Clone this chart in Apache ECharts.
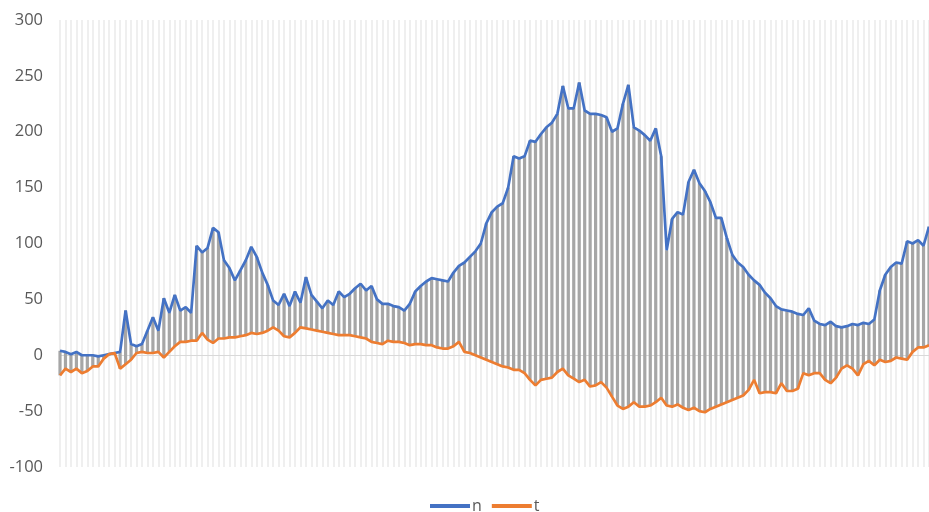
<!DOCTYPE html>
<html>
<head>
<meta charset="utf-8">
<script src="https://cdn.jsdelivr.net/npm/echarts@6/dist/echarts.min.js"></script>
<style>
html,body{margin:0;padding:0;background:#fff;}
#chart{width:929px;height:512px;}
</style>
</head>
<body>
<div id="chart"></div>
<script>
// Series values (one entry per category)
const nValues = [
  4, 3, 1, 3, 0, 0, 0, -1, 0, 1,
  2, 3, 40, 10, 8, 10, 22, 34, 22, 51,
  38, 54, 40, 43, 38, 98, 92, 96, 114, 110,
  85, 78, 67, 76, 85, 97, 88, 74, 63, 49,
  45, 55, 44, 57, 47, 70, 54, 48, 42, 49,
  45, 57, 52, 55, 60, 64, 58, 62, 50, 46,
  46, 44, 43, 40, 46, 57, 62, 66, 69, 68,
  67, 66, 74, 80, 83, 88, 93, 100, 118, 128,
  133, 136, 150, 178, 176, 178, 192, 191, 198, 204,
  208, 216, 241, 221, 221, 244, 219, 216, 216, 215,
  213, 200, 203, 225, 242, 204, 201, 197, 192, 203,
  178, 94, 122, 128, 126, 155, 166, 154, 147, 137,
  123, 123, 105, 90, 83, 79, 72, 67, 63, 56,
  51, 44, 41, 40, 39, 37, 36, 42, 31, 28,
  27, 30, 26, 25, 26, 28, 27, 29, 28, 32,
  58, 72, 79, 83, 82, 102, 100, 103, 98, 115
];
const tValues = [
  -18, -12, -15, -12, -16, -14, -10, -10, -3, 1,
  2, -12, -8, -4, 2, 3, 2, 2, 3, -2,
  3, 8, 12, 12, 13, 13, 20, 14, 11, 15,
  15, 16, 16, 17, 18, 20, 19, 20, 22, 25,
  22, 17, 16, 20, 25, 24, 23, 22, 21, 20,
  19, 18, 18, 18, 17, 16, 15, 12, 11, 10,
  13, 12, 12, 11, 9, 10, 10, 9, 9, 7,
  6, 6, 8, 12, 3, 2, 0, -2, -4, -6,
  -8, -10, -11, -13, -13, -16, -22, -27, -22, -21,
  -20, -15, -12, -18, -21, -24, -22, -28, -27, -24,
  -29, -37, -45, -48, -46, -42, -46, -46, -45, -42,
  -38, -45, -46, -44, -47, -49, -47, -50, -51, -48,
  -46, -44, -42, -40, -38, -36, -31, -22, -34, -33,
  -33, -34, -25, -32, -32, -30, -16, -18, -16, -16,
  -22, -25, -20, -12, -9, -12, -18, -8, -5, -9,
  -4, -6, -5, -2, -3, -4, 3, 7, 7, 9
];
const categories = nValues.map((_, i) => String(i + 1));
const yTicks = { min: -100, max: 300, interval: 50 };
const seriesNames = ['n', 't'];

const hiloData = categories.map((c, i) => [i, nValues[i], tValues[i]]);

const chart = echarts.init(document.getElementById('chart'), null, { renderer: 'canvas' });
chart.setOption({
  animation: false,
  backgroundColor: '#ffffff',
  textStyle: { fontFamily: 'Open Sans, Liberation Sans, sans-serif' },
  grid: { left: 60, right: 0, top: 20, bottom: 45, containLabel: false },
  legend: {
    data: seriesNames,
    top: 493,
    left: 425,
    icon: 'rect',
    itemWidth: 40,
    itemHeight: 4,
    itemGap: 10,
    textStyle: { color: '#595959', fontSize: 16, padding: [0, 0, 0, -3] }
  },
  xAxis: {
    type: 'category',
    data: categories,
    boundaryGap: false,
    axisLine: { show: true, onZero: true, lineStyle: { color: '#d9d9d9', width: 1 } },
    axisTick: { show: false },
    axisLabel: { show: false },
    splitLine: { show: true, interval: 0, lineStyle: { color: '#efefef', width: 2 } }
  },
  yAxis: {
    type: 'value',
    min: yTicks.min,
    max: yTicks.max,
    interval: yTicks.interval,
    axisLine: { show: false },
    axisTick: { show: false },
    splitLine: { show: false },
    axisLabel: { color: '#595959', fontSize: 16.5, margin: 17 }
  },
  series: [
    {
      name: 'hilo',
      type: 'custom',
      data: hiloData,
      encode: { x: 0, y: [1, 2] },
      z: 1,
      silent: true,
      renderItem: function (params, api) {
        const i = api.value(0);
        const p1 = api.coord([i, api.value(1)]);
        const p2 = api.coord([i, api.value(2)]);
        return {
          type: 'line',
          shape: { x1: p1[0], y1: p1[1], x2: p2[0], y2: p2[1] },
          style: { stroke: '#a6a6a6', lineWidth: 3.2 }
        };
      }
    },
    {
      name: 'n',
      type: 'line',
      data: nValues,
      showSymbol: false,
      symbol: 'none',
      z: 3,
      color: '#4472c4',
      lineStyle: { color: '#4472c4', width: 2.7 }
    },
    {
      name: 't',
      type: 'line',
      data: tValues,
      showSymbol: false,
      symbol: 'none',
      z: 3,
      color: '#ed7d31',
      lineStyle: { color: '#ed7d31', width: 2.7 }
    }
  ]
});
</script>
</body>
</html>
